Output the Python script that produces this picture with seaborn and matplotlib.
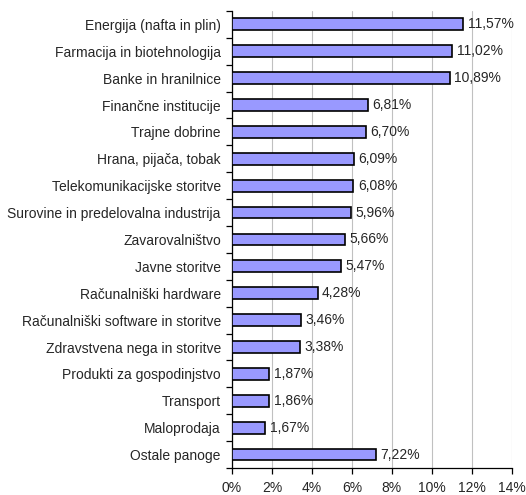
import matplotlib
matplotlib.use('Agg')
import matplotlib.pyplot as plt
import seaborn as sns
import numpy as np
import pandas as pd
from matplotlib.ticker import FixedLocator

# data
panoge = ['Energija (nafta in plin)', 'Farmacija in biotehnologija', 'Banke in hranilnice',
          'Finančne institucije', 'Trajne dobrine', 'Hrana, pijača, tobak',
          'Telekomunikacijske storitve', 'Surovine in predelovalna industrija',
          'Zavarovalništvo', 'Javne storitve', 'Računalniški hardware',
          'Računalniški software in storitve', 'Zdravstvena nega in storitve',
          'Produkti za gospodinjstvo', 'Transport', 'Maloprodaja', 'Ostale panoge']
delezi = [11.57, 11.02, 10.89, 6.81, 6.70, 6.09, 6.08, 5.96, 5.66, 5.47, 4.28,
          3.46, 3.38, 1.87, 1.86, 1.67, 7.22]
x_ticks = [0, 2, 4, 6, 8, 10, 12, 14]

df = pd.DataFrame({'panoga': panoge, 'delez': delezi})

sns.set_style('white')
plt.rcParams['font.family'] = ['Liberation Sans', 'DejaVu Sans']

fig = plt.figure(figsize=(5.26, 4.95), dpi=100)
ax = fig.add_axes([0.441, 0.0545, 0.532, 0.9235])

sns.barplot(data=df, x='delez', y='panoga', color='#9999FF', edgecolor='black',
            linewidth=1.2, width=0.44, saturation=1, ax=ax, zorder=3)

ax.set_xlim(0, 14)
ax.set_ylim(len(panoge) - 0.5, -0.5)
ax.set_xticks(x_ticks)
ax.set_xticklabels([f'{t}%' for t in x_ticks], fontsize=10)
ax.xaxis.grid(True, color='#c0c0c0', linewidth=0.8, zorder=0)
ax.yaxis.grid(False)
ax.set_xlabel('')
ax.set_ylabel('')

for s in ['top', 'right']:
    ax.spines[s].set_visible(False)
for s in ['left', 'bottom']:
    ax.spines[s].set_color('black')
    ax.spines[s].set_linewidth(0.9)

ax.tick_params(axis='y', which='major', length=0, labelsize=10, pad=8)
ax.yaxis.set_minor_locator(FixedLocator(np.arange(-0.5, len(panoge), 1)))
ax.tick_params(axis='y', which='minor', length=4, width=0.9, color='black', left=True)
ax.tick_params(axis='x', which='major', length=4, width=0.9, color='black', bottom=True,
               pad=5)

for i, v in enumerate(delezi):
    ax.text(v + 0.22, i, f'{v:.2f}%'.replace('.', ','), va='center', ha='left',
            fontsize=10)

fig.savefig('out.png', dpi=100)
